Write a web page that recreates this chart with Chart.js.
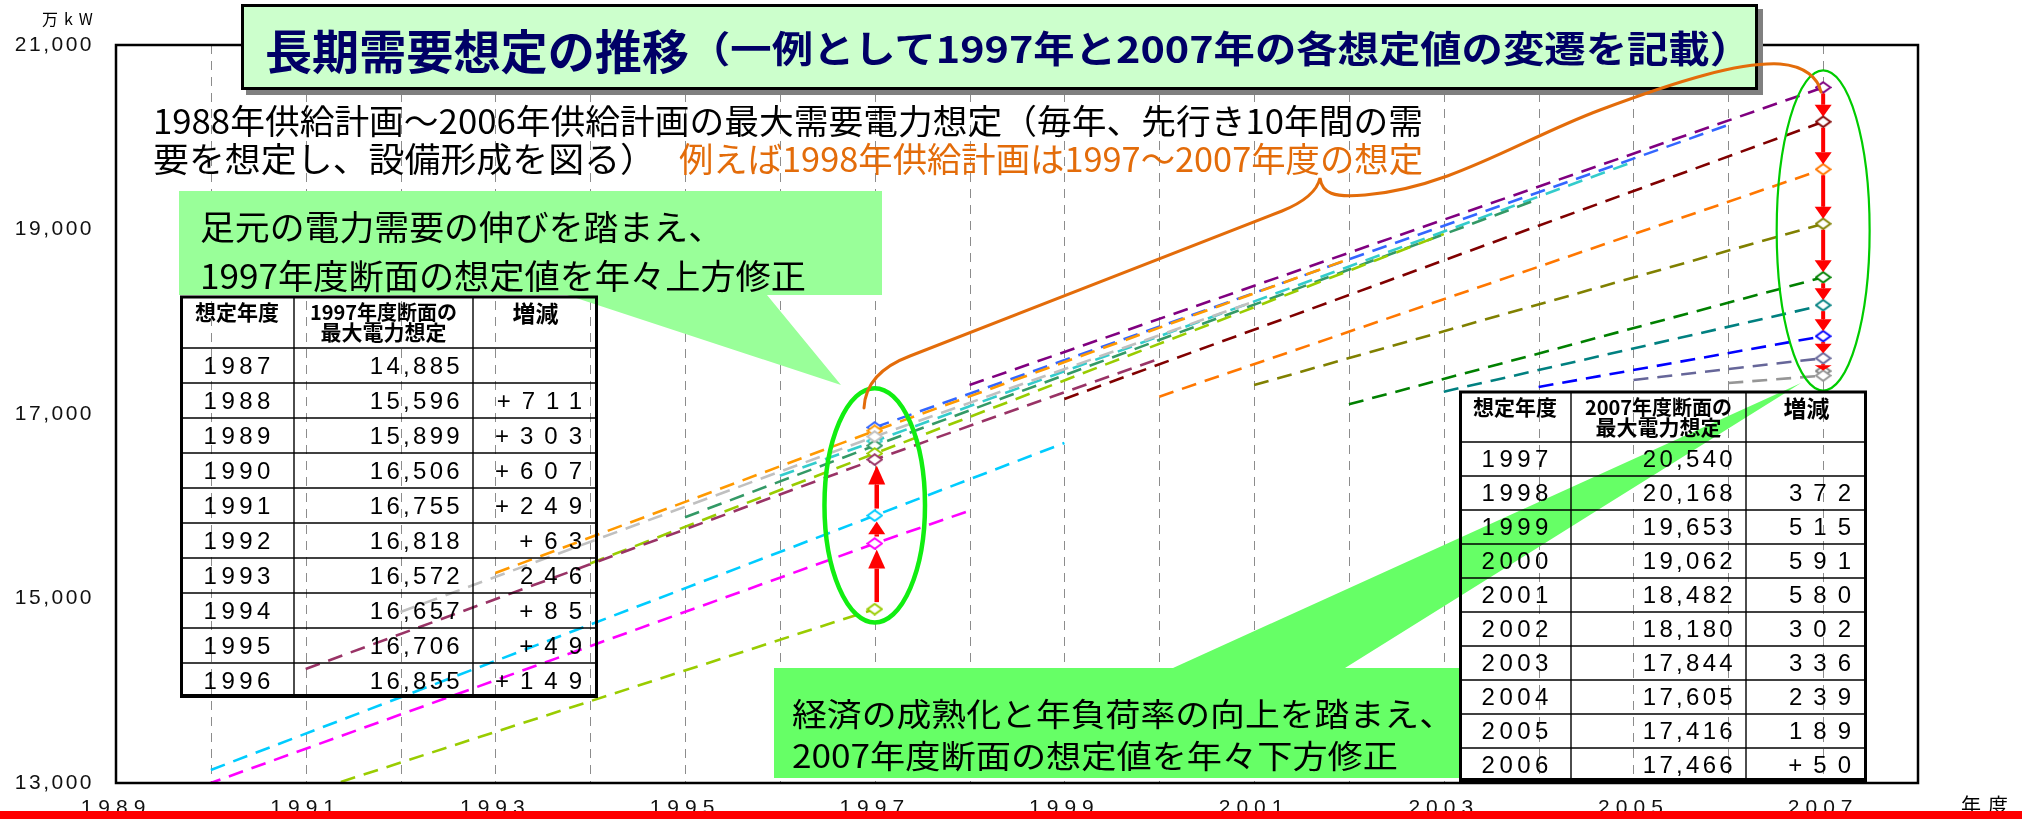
<!DOCTYPE html>
<html lang="ja">
<head>
<meta charset="utf-8">
<title>長期需要想定の推移</title>
<script src="https://cdn.jsdelivr.net/npm/chart.js@4.4.1/dist/chart.umd.min.js"></script>
<style>
  html, body { margin:0; padding:0; background:#fff; }
  #stage { position:relative; width:2022px; height:819px; overflow:hidden; background:#fff;
           font-family:"Noto Sans CJK JP", "Noto Sans", sans-serif; color:#000; }
  #chart { position:absolute; left:0; top:0; z-index:0; }
  svg.layer { position:absolute; left:0; top:0; overflow:visible; }
  #shapes { z-index:1; }
  #tables { z-index:3; }
  #curve { z-index:5; }
  .txt { position:absolute; white-space:nowrap; line-height:1; transform-origin:0 0; z-index:4; }
  #titleBox { position:absolute; left:241px; top:4px; width:1517px; height:86px; box-sizing:border-box;
              background:#CCFFCC; border:3px solid #000; box-shadow:5px 5px 0 #808080; z-index:2; }
  .cell { position:absolute; display:flex; align-items:center; box-sizing:border-box; z-index:4;
          font-family:"Liberation Sans", Arial, sans-serif; font-size:24px; white-space:nowrap; color:#000; }
  .hd { position:absolute; font-weight:700; line-height:1; white-space:nowrap; text-align:center; z-index:4; }
  #redBar { position:absolute; left:0; top:811px; width:2022px; height:8px; background:#FF0000; z-index:6; }
</style>
</head>
<body>
<div id="stage">
  <canvas id="chart" width="2022" height="819"></canvas>
  <svg id="shapes" class="layer" width="2022" height="819">
    <path d="M179,191 H882 V295 H767 L841,385 L567,295 H179 Z" fill="#99FF99"/>
    <path d="M774,668 H1173 L1801,383 L1345,668 H1459 V778 H774 Z" fill="#66FF66"/>
  </svg>
  <div id="titleBox"></div>
  <svg id="tables" class="layer" width="2022" height="819"></svg>
  <svg id="curve" class="layer" width="2022" height="819">
    <path d="M864,408 C865,386 878,368 910,356 L1282,211 C1304,202 1317,192 1320,178 C1322,193 1333,198 1365,195 C1450,188 1520,140 1600,110 C1680,80 1740,62 1780,64 C1805,66 1818,78 1821,92"
          fill="none" stroke="#E36C0A" stroke-width="3" stroke-linecap="round"/>
  </svg>
  <div id="redBar"></div>
</div>

<script>
// ---- data -----------------------------------------------------------------
// forecast year of each plan (想定年度) and the span of its 10-year forecast line
const planYears   = [1987,1988,1989,1990,1991,1992,1993,1994,1995,1996,
                     1997,1998,1999,2000,2001,2002,2003,2004,2005,2006];
const startYears  = [1988,1989,1990,1991,1992,1993,1994,1995,1996,1997,
                     1998,1999,2000,2001,2002,2003,2004,2005,2006,2007];
const startValues = [11890,12630,13141,14236,14854,15276,15380,15880,16330,16855,
                     17314,17163,17188,17314,17105,17242,17293,17369,17336,17466];
const endYears    = [1997,1998,1999,2000,2001,2002,2003,2004,2005,2006,
                     2007,2007,2007,2007,2007,2007,2007,2007,2007,2007];
const endValues   = [14885,15952,16686,17600,18220,18680,18950,19330,19735,20133,
                     20540,20168,19653,19062,18482,18180,17844,17605,17416,17466];

// FY1997 cross-section (plans 1987-1996)
const fy1997Plans   = [1987,1988,1989,1990,1991,1992,1993,1994,1995,1996];
const fy1997Values  = [14885,15596,15899,16506,16755,16818,16572,16657,16706,16855];
const fy1997Changes = ['', '+711', '+303', '+607', '+249', '+63', '246', '+85', '+49', '+149'];

// FY2007 cross-section (plans 1997-2006)
const fy2007Plans   = [1997,1998,1999,2000,2001,2002,2003,2004,2005,2006];
const fy2007Values  = [20540,20168,19653,19062,18482,18180,17844,17605,17416,17466];
const fy2007Changes = ['', '372', '515', '591', '580', '302', '336', '239', '189', '+50'];

const xTickYears  = [1989,1991,1993,1995,1997,1999,2001,2003,2005,2007];
const gridYears   = [1990,1991,1992,1993,1994,1995,1996,1997,1998,1999,
                     2000,2001,2002,2003,2004,2005,2006,2007];
const yTickValues = [13000,15000,17000,19000,21000];

// ---- styles ---------------------------------------------------------------
const planColors = ['#99CC00','#FF00FF','#00CCFF','#993366','#C0C0C0','#FF9900','#99CC00','#339966','#33CCCC','#3366FF',
                    '#800080','#800000','#FF7700','#808000','#008000','#008080','#0000FF','#666699','#969696','#808080'];

function diamond(color) {
  const c = document.createElement('canvas');
  c.width = 17; c.height = 13;
  const g = c.getContext('2d');
  g.beginPath();
  g.moveTo(8.5, 1.2); g.lineTo(15.8, 6.5); g.lineTo(8.5, 11.8); g.lineTo(1.2, 6.5); g.closePath();
  g.fillStyle = '#fff'; g.fill();
  g.lineWidth = 2; g.strokeStyle = color; g.stroke();
  return c;
}

const datasets = planYears.map((plan, i) => {
  const early = plan < 1997;
  const secYear = early ? 1997 : 2007;
  const secValue = early ? fy1997Values[fy1997Plans.indexOf(plan)] : fy2007Values[fy2007Plans.indexOf(plan)];
  const pts = [];
  const add = (x, y) => { if (!pts.some(p => p.x === x)) pts.push({ x, y }); };
  add(secYear, secValue);
  add(startYears[i], startValues[i]);
  add(endYears[i], endValues[i]);
  pts.sort((a, b) => a.x - b.x);
  const marker = diamond(planColors[i]);
  return {
    label: String(plan),
    data: pts,
    borderColor: planColors[i],
    borderWidth: 2.6,
    borderDash: [15, 9],
    fill: false,
    tension: 0,
    pointStyle: marker,
    pointRadius: ctx => (ctx.raw && ctx.raw.x === secYear ? 7 : 0),
    pointHoverRadius: 0
  };
});

// ---- drawing helpers ------------------------------------------------------
function drawArrow(ctx, x, yFrom, yTip, headL, headW, shaftW) {
  const dir = Math.sign(yTip - yFrom);
  const len = Math.abs(yTip - yFrom);
  const hl = Math.min(headL, len * 0.85);
  const yBase = yTip - dir * hl;
  ctx.fillStyle = '#FF0000';
  if (Math.abs(yBase - yFrom) > 0) ctx.fillRect(x - shaftW / 2, Math.min(yFrom, yBase), shaftW, Math.abs(yBase - yFrom));
  ctx.beginPath();
  ctx.moveTo(x - headW / 2, yBase); ctx.lineTo(x + headW / 2, yBase); ctx.lineTo(x, yTip); ctx.closePath();
  ctx.fill();
}

const overlayPlugin = {
  id: 'overlay',
  beforeDraw(chart) { chart.ctx.letterSpacing = '2.5px'; },
  beforeDatasetsDraw(chart) {
    const { ctx, chartArea: a, scales: { x } } = chart;
    ctx.save();
    ctx.letterSpacing = '0px';
    ctx.strokeStyle = '#8c8c8c';
    ctx.lineWidth = 1;
    ctx.setLineDash([9, 7]);
    gridYears.forEach(yr => {
      const px = Math.round(x.getPixelForValue(yr)) + 0.5;
      ctx.beginPath(); ctx.moveTo(px, a.top); ctx.lineTo(px, a.bottom); ctx.stroke();
    });
    ctx.restore();
  },
  afterDatasetsDraw(chart) {
    const { ctx, chartArea: a, scales: { x, y } } = chart;
    ctx.save();
    ctx.letterSpacing = '0px';
    // plot frame
    ctx.strokeStyle = '#000'; ctx.lineWidth = 2.5; ctx.setLineDash([]);
    ctx.strokeRect(a.left, a.top, a.right - a.left, a.bottom - a.top);

    // ellipses around the two cross-sections
    const ell = (cx, cy, rx, ry, color, w) => {
      const px = x.getPixelForValue(cx), py = y.getPixelForValue(cy);
      const rpx = Math.abs(x.getPixelForValue(cx + rx) - px);
      const rpy = Math.abs(y.getPixelForValue(cy + ry) - py);
      ctx.beginPath(); ctx.ellipse(px, py, rpx, rpy, 0, 0, Math.PI * 2);
      ctx.strokeStyle = color; ctx.lineWidth = w; ctx.stroke();
    };
    ell(1997, 16010, 0.53, 1270, '#11EE11', 4.5);
    ell(2007, 18990, 0.49, 1735, '#00CC00', 2.2);

    // upward revisions of the FY1997 value
    const xl = x.getPixelForValue(1997) + 2;
    for (let i = 0; i < 3; i++) {
      drawArrow(ctx, xl, y.getPixelForValue(fy1997Values[i]) - 7, y.getPixelForValue(fy1997Values[i + 1]) + 6, 19, 17, 4.5);
    }
    // downward revisions of the FY2007 value
    const xr = x.getPixelForValue(2007);
    for (let i = 0; i < 8; i++) {
      drawArrow(ctx, xr, y.getPixelForValue(fy2007Values[i]) + 6, y.getPixelForValue(fy2007Values[i + 1]) - 5, 12, 17, 4);
    }
    ctx.restore();
    // the year labels are drawn on a later layer, with wider tracking
    ctx.letterSpacing = '6px';
  },
  afterDraw(chart) { chart.ctx.letterSpacing = '0px'; }
};

new Chart(document.getElementById('chart'), {
  type: 'line',
  data: { datasets },
  plugins: [overlayPlugin],
  options: {
    responsive: false,
    animation: false,
    devicePixelRatio: 1,
    layout: { padding: { left: 0, top: 45, right: 104, bottom: 0 } },
    plugins: { legend: { display: false }, tooltip: { enabled: false } },
    events: [],
    scales: {
      x: {
        type: 'linear', min: 1989, max: 2008,
        afterBuildTicks: s => { s.ticks = xTickYears.map(v => ({ value: v })); },
        afterFit: s => { s.height = 36; },
        grid: { display: false, drawTicks: false },
        border: { display: false },
        ticks: { autoSkip: false, maxRotation: 0, padding: 13, color: '#111', z: 1,
                 font: { family: 'Liberation Sans', size: 21 },
                 callback: v => String(v) }
      },
      y: {
        min: 13000, max: 21000,
        afterBuildTicks: s => { s.ticks = yTickValues.map(v => ({ value: v })); },
        afterFit: s => { s.width = 116; },
        grid: { display: false, drawTicks: false },
        border: { display: false },
        ticks: { padding: 22, color: '#111',
                 font: { family: 'Liberation Sans', size: 21 },
                 callback: v => v.toLocaleString('en-US') }
      }
    }
  }
});

// ---- text ---------------------------------------------------------------
const stage = document.getElementById('stage');
const fitList = [];
function addText(t, o) {
  const el = document.createElement('div');
  el.className = 'txt';
  el.textContent = t;
  el.style.left = o.x + 'px';
  el.style.top = (o.ink - 0.106 * o.size) + 'px';
  el.style.fontSize = o.size + 'px';
  el.style.fontWeight = o.weight || 400;
  el.style.color = o.color || '#000';
  if (o.spacing) el.style.letterSpacing = o.spacing + 'px';
  stage.appendChild(el);
  if (o.w) fitList.push([el, o.w]);
  return el;
}
addText('長期需要想定の推移', { x: 265, ink: 30, size: 47, w: 424, weight: 700, color: '#000066' });
addText('（一例として1997年と2007年の各想定値の変遷を記載）', { x: 689, ink: 33, size: 37, w: 1062, weight: 700, color: '#000066' });
addText('1988年供給計画～2006年供給計画の最大需要電力想定（毎年、先行き10年間の需', { x: 153, ink: 107, size: 34, w: 1270 });
addText('要を想定し、設備形成を図る）', { x: 153, ink: 145, size: 34, w: 503 });
addText('例えば1998年供給計画は1997～2007年度の想定', { x: 679, ink: 145, size: 34, w: 744, color: '#E36C0A' });
addText('足元の電力需要の伸びを踏まえ、', { x: 200, ink: 213, size: 34, w: 523 });
addText('1997年度断面の想定値を年々上方修正', { x: 200, ink: 262, size: 34, w: 606 });
addText('経済の成熟化と年負荷率の向上を踏まえ、', { x: 792, ink: 699, size: 32, w: 662 });
addText('2007年度断面の想定値を年々下方修正', { x: 792, ink: 741, size: 32, w: 606 });
addText('万kW', { x: 42, ink: 12, size: 16, spacing: 6 });
addText('年度', { x: 1961, ink: 797, size: 20, spacing: 7 });

// ---- tables -------------------------------------------------------------
const tableSvg = document.getElementById('tables');
function svgLine(x1, y1, x2, y2, w) {
  const l = document.createElementNS('http://www.w3.org/2000/svg', 'line');
  l.setAttribute('x1', x1); l.setAttribute('y1', y1); l.setAttribute('x2', x2); l.setAttribute('y2', y2);
  l.setAttribute('stroke', '#000'); l.setAttribute('stroke-width', w);
  tableSvg.appendChild(l);
}
function headText(t, left, width, ink, size) {
  const el = document.createElement('div');
  el.className = 'hd';
  el.textContent = t;
  el.style.left = left + 'px'; el.style.width = width + 'px';
  el.style.top = (ink - 0.106 * size) + 'px';
  el.style.fontSize = size + 'px';
  stage.appendChild(el);
}
function cell(t, left, top, width, height, align, spacing, padR) {
  const el = document.createElement('div');
  el.className = 'cell';
  el.textContent = t;
  el.style.left = left + 'px'; el.style.top = top + 'px';
  el.style.width = width + 'px'; el.style.height = height + 'px';
  el.style.letterSpacing = spacing + 'px';
  el.style.justifyContent = align === 'center' ? 'center' : 'flex-end';
  if (align === 'center') el.style.paddingLeft = spacing + 'px';
  else el.style.paddingRight = padR + 'px';
  stage.appendChild(el);
}
function buildTable(L, caption, plans, values, changes) {
  const [c0, c1, c2, c3] = L.cols;
  const bottom = L.top + L.headH + L.rowH * plans.length;
  // inner rules
  for (let r = 0; r < plans.length; r++) {
    const yy = L.top + L.headH + L.rowH * r;
    svgLine(c0, yy, c3, yy, 1.6);
  }
  svgLine(c1, L.top, c1, bottom, 1.4);
  svgLine(c2, L.top, c2, bottom, 1.4);
  // outer frame
  svgLine(c0, L.top, c3, L.top, 3);
  svgLine(c0 + 1.5, L.top, c0 + 1.5, bottom, 3);
  svgLine(c3 - 1.5, L.top, c3 - 1.5, bottom, 3);
  svgLine(c0, bottom - 2, c3, bottom - 2, 4);
  // header
  headText('想定年度', c0, c1 - c0, L.top + 6, 21);
  headText(caption, c1, c2 - c1, L.top + 7, 20);
  headText('最大電力想定', c1, c2 - c1, L.top + 26, 21);
  headText('増減', c2, c3 - c2, L.top + 6, 23);
  // rows
  plans.forEach((p, r) => {
    const top = L.top + L.headH + L.rowH * r;
    cell(String(p), c0, top, c1 - c0, L.rowH, 'center', 4.5, 0);
    cell(values[r].toLocaleString('en-US'), c1, top, c2 - c1, L.rowH, 'right', 3.3, 10);
    cell(changes[r], c2, top, c3 - c2, L.rowH, 'right', 11, 5);
  });
}
buildTable({ top: 297, cols: [180, 294, 473, 598], headH: 51, rowH: 35 }, '1997年度断面の', fy1997Plans, fy1997Values, fy1997Changes);
buildTable({ top: 392, cols: [1459, 1571, 1746, 1867], headH: 50, rowH: 34 }, '2007年度断面の', fy2007Plans, fy2007Values, fy2007Changes);

function fitAll() {
  fitList.forEach(([el, w]) => {
    el.style.transform = 'none';
    const nat = el.getBoundingClientRect().width;
    if (nat > 0) el.style.transform = 'scaleX(' + (w / nat) + ')';
  });
}
fitAll();
if (document.fonts && document.fonts.ready) document.fonts.ready.then(fitAll);
</script>
</body>
</html>
